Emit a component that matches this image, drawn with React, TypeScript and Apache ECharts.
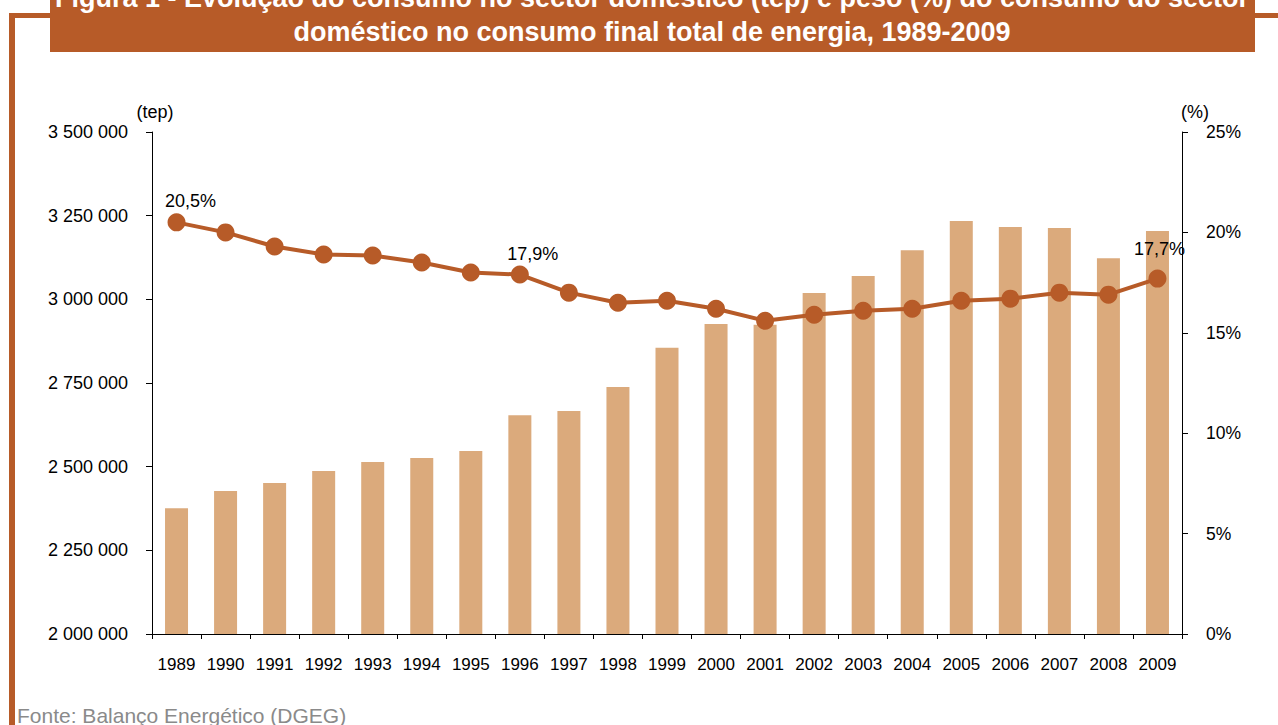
import React, { useEffect, useRef } from "react";
import * as echarts from "echarts";

const years = ["1989","1990","1991","1992","1993","1994","1995","1996","1997","1998","1999","2000","2001","2002","2003","2004","2005","2006","2007","2008","2009"];
const consumoTep = [2376000,2427000,2451000,2487000,2514000,2526000,2547000,2654000,2666000,2738000,2855000,2926000,2924000,3019000,3070000,3147000,3234000,3216000,3213000,3123000,3204000];
const pesoPct = [20.5,20.0,19.3,18.9,18.85,18.5,18.0,17.9,17.0,16.5,16.6,16.2,15.6,15.9,16.1,16.2,16.6,16.7,17.0,16.9,17.7];
const labeledIdx = [0, 7, 20];
const leftTicks = { min: 2000000, max: 3500000, interval: 250000 };
const rightTicks = { min: 0, max: 25, interval: 5 };

const titleLine1 = "Figura 1 - Evolução do consumo no sector doméstico (tep) e peso (%) do consumo do sector";
const titleLine2 = "doméstico no consumo final total de energia, 1989-2009";
const source = "Fonte: Balanço Energético (DGEG)";

const BROWN = "#B75B28";
const BAR = "#DBAA7C";
const FONT = "'Liberation Sans', Arial, sans-serif";

export default function App() {
  const ref = useRef<HTMLDivElement>(null);
  useEffect(() => {
    if (!ref.current) return;
    const chart = echarts.init(ref.current, null, { renderer: "svg" });
    const fmtComma = (v: number) => v.toFixed(1).replace(".", ",") + "%";
    const labelOffsets: Record<number, number[]> = { 0: [14, 1], 7: [13, 1], 20: [2, -8] };
    chart.setOption({
      animation: false,
      backgroundColor: "#fff",
      textStyle: { fontFamily: FONT },
      grid: { left: 152, right: 96, top: 132, bottom: 91, containLabel: false },
      xAxis: {
        type: "category",
        data: years,
        axisLine: { lineStyle: { color: "#000", width: 1 } },
        axisTick: { show: true, length: 5, lineStyle: { color: "#000" } },
        axisLabel: { color: "#000", fontSize: 17, margin: 22, interval: 0, fontFamily: FONT },
      },
      yAxis: [
        {
          type: "value",
          min: leftTicks.min,
          max: leftTicks.max,
          interval: leftTicks.interval,
          axisLine: { show: true, lineStyle: { color: "#000" } },
          axisTick: { show: true, length: 6, lineStyle: { color: "#000" } },
          splitLine: { show: false },
          axisLabel: {
            color: "#000",
            fontSize: 18,
            margin: 24,
            fontFamily: FONT,
            formatter: (v: number) => String(v).replace(/\B(?=(\d{3})+(?!\d))/g, " "),
          },
        },
        {
          type: "value",
          min: rightTicks.min,
          max: rightTicks.max,
          interval: rightTicks.interval,
          position: "right",
          axisLine: { show: true, lineStyle: { color: "#000" } },
          axisTick: { show: true, length: 6, lineStyle: { color: "#000" } },
          splitLine: { show: false },
          axisLabel: { color: "#000", fontSize: 17.5, margin: 24, fontFamily: FONT, formatter: "{value}%" },
        },
      ],
      series: [
        {
          type: "bar",
          data: consumoTep,
          yAxisIndex: 0,
          barWidth: 23,
          itemStyle: { color: BAR },
        },
        {
          type: "line",
          yAxisIndex: 1,
          data: pesoPct.map((v, i) =>
            labeledIdx.includes(i)
              ? { value: v, label: { show: true, offset: labelOffsets[i] } }
              : { value: v }
          ),
          symbol: "circle",
          symbolSize: 18,
          lineStyle: { color: BROWN, width: 4 },
          itemStyle: { color: BROWN },
          label: {
            show: false,
            position: "top",
            distance: 4,
            color: "#000",
            fontSize: 18,
            fontFamily: FONT,
            formatter: (p: any) => fmtComma(p.value),
          },
          z: 5,
        },
      ],
      graphic: [
        { type: "rect", shape: { x: 50, y: 0, width: 1205, height: 52 }, style: { fill: BROWN } },
        { type: "rect", shape: { x: 9, y: 13, width: 41, height: 5 }, style: { fill: BROWN } },
        { type: "rect", shape: { x: 1255, y: 13, width: 23, height: 5 }, style: { fill: BROWN } },
        { type: "rect", shape: { x: 9, y: 13, width: 6, height: 712 }, style: { fill: BROWN } },
        {
          type: "text", x: 652, y: -2,
          style: { text: titleLine1, fill: "#fff", font: `bold 27px ${FONT}`, textAlign: "center", textVerticalAlign: "middle" },
        },
        {
          type: "text", x: 652, y: 32,
          style: { text: titleLine2, fill: "#fff", font: `bold 27px ${FONT}`, textAlign: "center", textVerticalAlign: "middle" },
        },
        {
          type: "text", x: 155, y: 112,
          style: { text: "(tep)", fill: "#000", font: `18px ${FONT}`, textAlign: "center", textVerticalAlign: "middle" },
        },
        {
          type: "text", x: 1195, y: 112,
          style: { text: "(%)", fill: "#000", font: `18px ${FONT}`, textAlign: "center", textVerticalAlign: "middle" },
        },
        {
          type: "text", x: 17, y: 715,
          style: { text: source, fill: "#8a8a8a", font: `21px ${FONT}`, textAlign: "left", textVerticalAlign: "middle" },
        },
      ],
    });
    return () => chart.dispose();
  }, []);
  return (
    <div
      ref={ref}
      style={{ position: "fixed", left: 0, top: 0, width: 1278, height: 725 }}
    />
  );
}
